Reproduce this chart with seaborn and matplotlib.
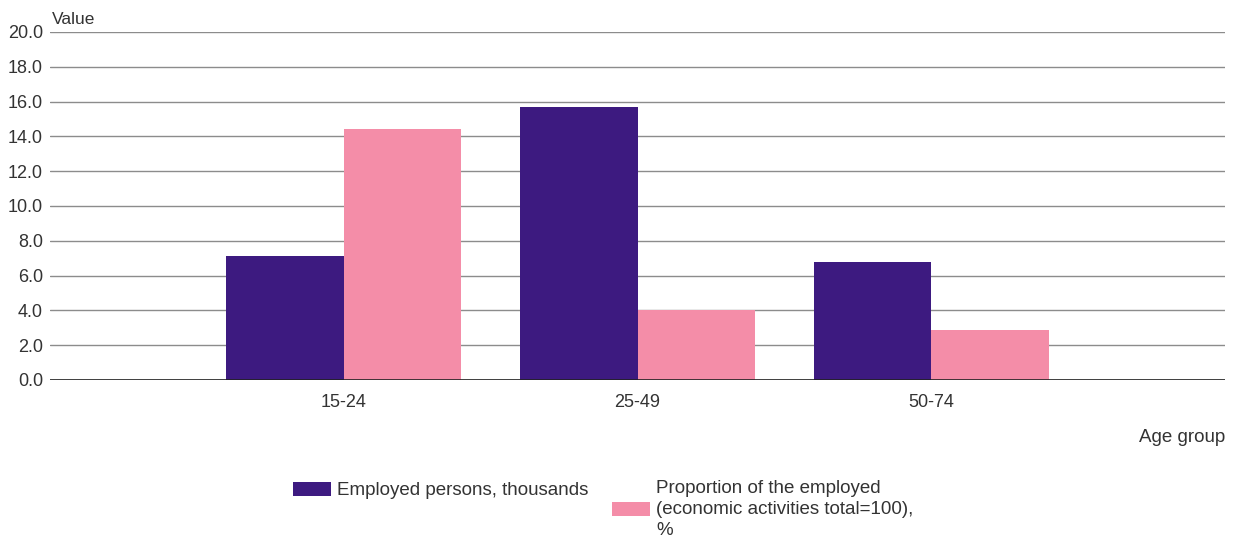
"""
Employed persons by age group - bar chart
"""

import pandas as pd
import numpy as np
import matplotlib
matplotlib.use('Agg')
import matplotlib.pyplot as plt
import seaborn as sns

# data
age_groups = ['15-24', '25-49', '50-74']
employed_thousands = [7.1, 15.7, 6.8]
proportion_pct = [14.4, 4.0, 2.9]
series_names = ['Employed persons, thousands',
                'Proportion of the employed\n(economic activities total=100),\n%']
y_ticks = [0, 2, 4, 6, 8, 10, 12, 14, 16, 18, 20]

colors = ['#3D1A80', '#F48DA8']

sns.set_style('white')
plt.rcParams['font.family'] = ['Liberation Sans', 'DejaVu Sans']

df = pd.DataFrame({
    'Age group': age_groups * 2,
    'Value': employed_thousands + proportion_pct,
    'Series': [series_names[0]] * 3 + [series_names[1]] * 3,
})

fig = plt.figure(figsize=(12.38, 5.43), dpi=100)
ax = fig.add_axes([50 / 1238, 1 - 380 / 543, 1175 / 1238, 348 / 543])

sns.barplot(data=df, x='Age group', y='Value', hue='Series', order=age_groups,
            hue_order=series_names, palette=colors, width=0.8, saturation=1,
            linewidth=0, ax=ax)

ax.set_xlim(-1, 3)
ax.set_ylim(0, 20)
ax.set_yticks(y_ticks)
ax.set_yticklabels([f'{v:.1f}' for v in y_ticks])
ax.yaxis.grid(True, color='#8c8c8c', linewidth=1)
ax.set_axisbelow(True)
ax.axhline(0, color='#222222', linewidth=1.2)
for s in ax.spines.values():
    s.set_visible(False)
ax.tick_params(axis='y', length=3, color='#8c8c8c', labelsize=13, pad=2, labelcolor='#333333')
ax.tick_params(axis='x', length=0, labelsize=13, pad=10, labelcolor='#333333')
ax.set_xlabel('')
ax.set_ylabel('')

fig.text(52 / 1238, 1 - 20 / 543, 'Value', fontsize=12.5, color='#333333', va='center')
fig.text(1225 / 1238, 1 - 437 / 543, 'Age group', fontsize=13.5, color='#333333',
         ha='right', va='center')

# legend, two blocks side by side
handles, labels = ax.get_legend_handles_labels()
ax.legend_.remove()
leg_kw = dict(loc='upper left', frameon=False, fontsize=13.5, handlelength=2.0,
              handleheight=0.75, handletextpad=0.35, labelcolor='#333333',
              borderpad=0, borderaxespad=0)
fig.legend([handles[0]], [labels[0]], bbox_to_anchor=(293 / 1238, 1 - 482 / 543), **leg_kw)
leg2 = fig.legend([handles[1]], [labels[1]], bbox_to_anchor=(612 / 1238, 1 - 480 / 543), **leg_kw)
for t in leg2.get_texts():
    t.set_linespacing(1.3)

fig.savefig('out.png', dpi=100)
